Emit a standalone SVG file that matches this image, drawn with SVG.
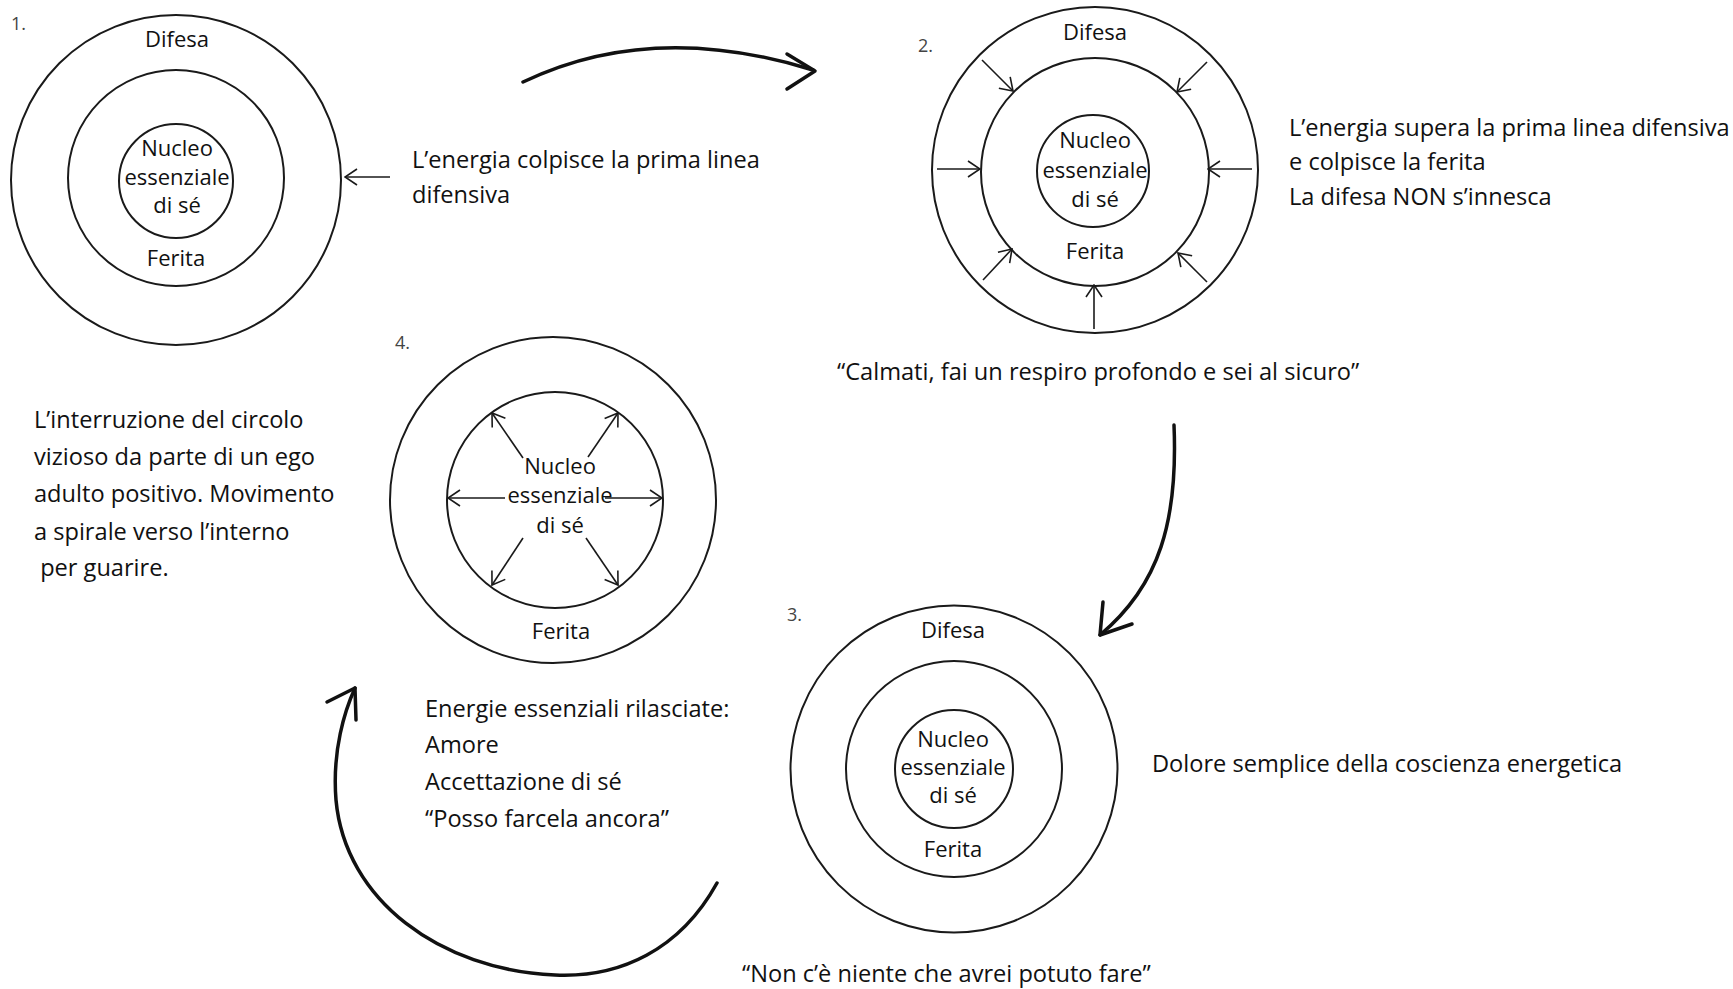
<svg xmlns="http://www.w3.org/2000/svg" width="1733" height="989" viewBox="0 0 1733 989">
  <style>
    .ring { fill: none; stroke: #1a1a1a; stroke-width: 2; }
    .lbl { font-family: "Open Sans", "Noto Sans", sans-serif; font-size: 22px; fill: #111; text-anchor: middle; }
    .body { font-family: "Open Sans", "Noto Sans", sans-serif; font-size: 23.6px; fill: #111; }
    .num { font-family: "Open Sans", "Noto Sans", sans-serif; font-size: 18px; fill: #444; }
    .sa { fill: none; stroke: #1a1a1a; stroke-width: 1.6; marker-end: url(#chev); }
    .big { fill: none; stroke: #111; stroke-width: 3.5; stroke-linecap: round; stroke-linejoin: round; }
  </style>
  <defs>
    <marker id="chev" markerUnits="userSpaceOnUse" viewBox="0 0 14 18" markerWidth="14" markerHeight="18" refX="13" refY="9" orient="auto">
      <path d="M1,1 L13,9 L1,17" fill="none" stroke="#1a1a1a" stroke-width="1.6"/>
    </marker>
  </defs>
  <rect width="1733" height="989" fill="#ffffff"/>

  <g id="node1">
    <circle class="ring" cx="176" cy="180" r="165"/>
    <circle class="ring" cx="176" cy="178" r="108"/>
    <circle class="ring" cx="176" cy="181" r="57"/>
    <text class="num" x="11" y="30">1.</text>
    <text class="lbl" x="177" y="47">Difesa</text>
    <text class="lbl" x="177" y="156">Nucleo</text>
    <text class="lbl" x="177" y="185">essenziale</text>
    <text class="lbl" x="177" y="213">di sé</text>
    <text class="lbl" x="176" y="266">Ferita</text>
  </g>

  <g id="node2">
    <circle class="ring" cx="1095" cy="170" r="163"/>
    <circle class="ring" cx="1095" cy="172" r="114"/>
    <circle class="ring" cx="1093" cy="171" r="56"/>
    <text class="num" x="918" y="52">2.</text>
    <text class="lbl" x="1095" y="40">Difesa</text>
    <text class="lbl" x="1095" y="148">Nucleo</text>
    <text class="lbl" x="1095" y="178">essenziale</text>
    <text class="lbl" x="1095" y="207">di sé</text>
    <text class="lbl" x="1095" y="259">Ferita</text>
  </g>

  <g id="node3">
    <circle class="ring" cx="954" cy="769" r="163.5"/>
    <circle class="ring" cx="954" cy="769" r="108"/>
    <circle class="ring" cx="954" cy="769" r="59"/>
    <text class="num" x="787" y="621">3.</text>
    <text class="lbl" x="953" y="638">Difesa</text>
    <text class="lbl" x="953" y="747">Nucleo</text>
    <text class="lbl" x="953" y="775">essenziale</text>
    <text class="lbl" x="953" y="803">di sé</text>
    <text class="lbl" x="953" y="857">Ferita</text>
  </g>

  <g id="node4">
    <circle class="ring" cx="553" cy="500" r="163"/>
    <circle class="ring" cx="555" cy="500" r="108"/>
    <text class="num" x="395" y="349">4.</text>
    <text class="lbl" x="560" y="474">Nucleo</text>
    <text class="lbl" x="560" y="503">essenziale</text>
    <text class="lbl" x="560" y="533">di sé</text>
    <text class="lbl" x="561" y="639">Ferita</text>
  </g>

  <g id="texts">
    <text class="body" x="412" y="168">L’energia colpisce la prima linea</text>
    <text class="body" x="412" y="203">difensiva</text>
    <text class="body" x="1289" y="136">L’energia supera la prima linea difensiva</text>
    <text class="body" x="1289" y="170">e colpisce la ferita</text>
    <text class="body" x="1289" y="205">La difesa NON s’innesca</text>
    <text class="body" x="837" y="380">“Calmati, fai un respiro profondo e sei al sicuro”</text>
    <text class="body" x="34" y="428">L’interruzione del circolo</text>
    <text class="body" x="34" y="465">vizioso da parte di un ego</text>
    <text class="body" x="34" y="502">adulto positivo. Movimento</text>
    <text class="body" x="34" y="540">a spirale verso l’interno</text>
    <text class="body" x="34" y="576" xml:space="preserve"> per guarire.</text>
    <text class="body" x="425" y="717">Energie essenziali rilasciate:</text>
    <text class="body" x="425" y="753">Amore</text>
    <text class="body" x="425" y="790">Accettazione di sé</text>
    <text class="body" x="425" y="827">“Posso farcela ancora”</text>
    <text class="body" x="1152" y="772">Dolore semplice della coscienza energetica</text>
    <text class="body" x="742" y="982">“Non c’è niente che avrei potuto fare”</text>
  </g>

  <g id="connectors">
    <!-- diagram 1 -->
    <line class="sa" x1="390" y1="177" x2="345" y2="177"/>
    <!-- diagram 2 inward arrows -->
    <line class="sa" x1="982" y1="60" x2="1013" y2="91"/>
    <line class="sa" x1="1207" y1="62" x2="1177" y2="92"/>
    <line class="sa" x1="937" y1="169" x2="980" y2="169"/>
    <line class="sa" x1="1252" y1="169" x2="1208" y2="169"/>
    <line class="sa" x1="983" y1="280" x2="1012" y2="249"/>
    <line class="sa" x1="1207" y1="282" x2="1178" y2="253"/>
    <line class="sa" x1="1094" y1="329" x2="1094" y2="285"/>
    <!-- diagram 4 outward arrows -->
    <line class="sa" x1="505" y1="498" x2="448" y2="498"/>
    <line class="sa" x1="605" y1="498" x2="662" y2="498"/>
    <line class="sa" x1="523" y1="458" x2="492" y2="413"/>
    <line class="sa" x1="588" y1="457" x2="618" y2="413"/>
    <line class="sa" x1="523" y1="538" x2="492" y2="585"/>
    <line class="sa" x1="586" y1="538" x2="618" y2="585"/>
    <!-- big cycle arrows -->
    <path class="big" d="M523,82 Q652,20 813,70"/>
    <path class="big" d="M787,54 L815,71 L787,89"/>
    <path class="big" d="M1174,425 C1178,520 1160,585 1100,635"/>
    <path class="big" d="M1103,602 L1100,635 L1132,624"/>
    <path class="big" d="M717,883 C680,950 620,978 555,975 C440,970 345,900 336,800 C332,750 345,710 355,688"/>
    <path class="big" d="M327,702 L355,688 L356,720"/>
  </g>
</svg>
